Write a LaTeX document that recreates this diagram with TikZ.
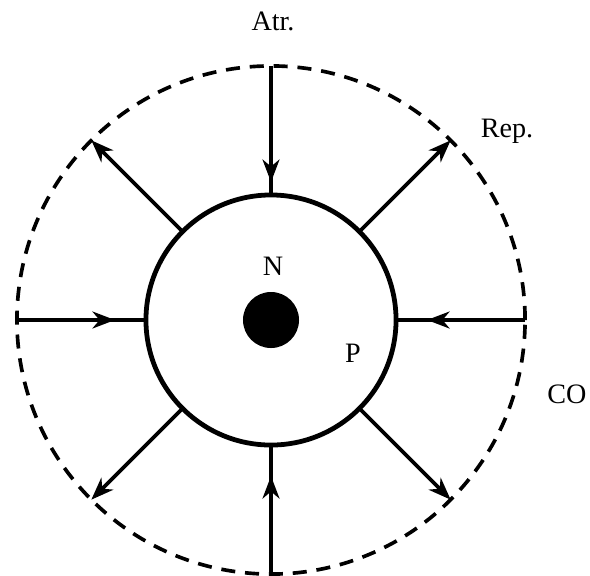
\documentclass[tikz,border=0pt]{standalone}
\usepackage{tikz}
\usepackage{fontspec}
\setmainfont{Liberation Serif}
\usetikzlibrary{arrows.meta, decorations.markings, positioning}
\tikzset{
	shell/.style={circle, draw=black, line width=3.4pt, minimum size=6.25cm, inner sep=0pt, outer sep=0pt},
	halo/.style ={circle, draw=black, line width=2.6pt, dash pattern=on 10pt off 7pt, minimum size=12.7cm, inner sep=0pt, outer sep=0pt},
	core/.style ={circle, fill=black, minimum size=1.4cm, inner sep=0pt},
	lbl/.style  ={anchor=base, inner sep=0pt, font=\fontsize{20}{24}\selectfont},
	% outward (repulsive) and inward (attractive) arrows
	repel/.style={line width=2.6pt, -{Stealth[length=16pt, width=12pt, inset=5pt]}},
	attract/.style={line width=2.6pt, postaction={decorate},
		decoration={markings, mark=at position #1 with {\arrow{Stealth[length=16pt, width=12pt, inset=5pt]}}}},
}
\begin{document}
\begin{tikzpicture}[x=0.025cm, y=-0.025cm]
	\useasboundingbox (0,0) rectangle (590,575);
	\node[halo]  (co) at (271,320) {};
	\node[shell] (p)  at (271,320) {};
	\node[core]  (n)  at (271,320) {};
	\node[lbl] (atr) at (273,30)  {Atr.};
	\node[lbl] (rep) at (507,137) {Rep.};
	\node[lbl] (nl)  at (273,275) {N};
	\node[lbl] (pl)  at (353,362) {P};
	\node[lbl] (col) at (567,403) {CO};
	\draw[attract=0.9]  (co.north) -- (p.north);
	\draw[attract=0.76] (co.west)  -- (p.west);
	\draw[attract=0.76] (co.east)  -- (p.east);
	\draw[attract=0.76] (co.south) -- (p.south);
	\draw[repel] (p.45)  -- (co.45);
	\draw[repel] (p.135) -- (co.135);
	\draw[repel] (p.225) -- (co.225);
	\draw[repel] (p.315) -- (co.315);
\end{tikzpicture}
\end{document}
